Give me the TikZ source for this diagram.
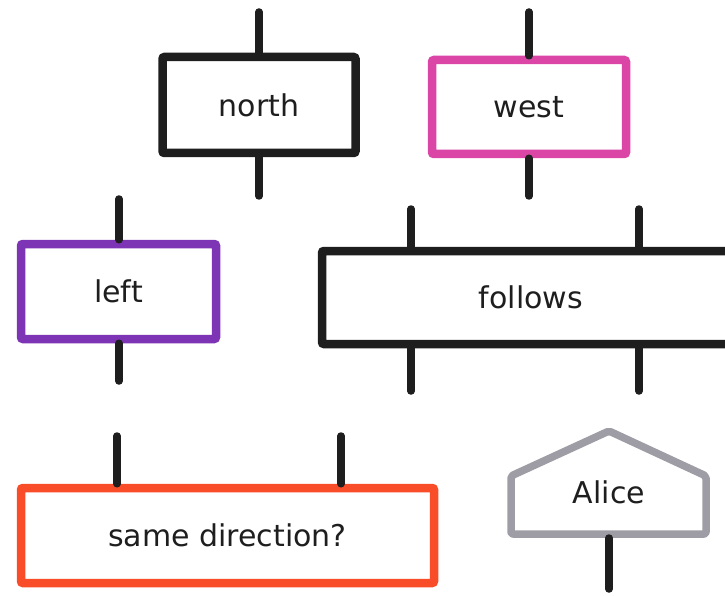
\documentclass[tikz,border=0pt]{standalone}
\usepackage{fontspec}
\setmainfont{DejaVu Sans}
\definecolor{ink}{HTML}{1E1E1E}
\definecolor{pinkbox}{HTML}{DA45A6}
\definecolor{purplebox}{HTML}{7D35B5}
\definecolor{redbox}{HTML}{F94C28}
\definecolor{greybox}{HTML}{9E9CA5}
\tikzset{
  box/.style={draw=#1, line width=8.5, rounded corners=2, fill=white, text=ink,
    font=\fontsize{30}{34}\selectfont, inner sep=0pt},
  box/.default=ink,
  wire/.style={draw=ink, line width=7.5, line cap=round},
}
\begin{document}
\begin{tikzpicture}[x=1pt, y=-1pt]
\useasboundingbox (0,0) rectangle (725,596);
\node[box, minimum width=193, minimum height=96] (north) at (259,105) {north};
\node[box=pinkbox, minimum width=194, minimum height=94] (west) at (529,107) {west};
\node[box=purplebox, minimum width=195, minimum height=95] (left) at (118.5,291.5) {left};
\node[box, minimum width=418, minimum height=93] (follows) at (531,297.5) {follows};
\node[box=redbox, minimum width=413, minimum height=95] (same) at (227.5,535.5) {same direction?};
\draw[greybox, line width=7.5, rounded corners=2, line join=round]
  (511,534) -- (511,476) -- (609,431) -- (706,476) -- (706,534) -- cycle;
\node[text=ink, font=\fontsize{30}{34}\selectfont] (alice) at (609,492) {Alice};
\coordinate (alice-base) at (609,538);
\coordinate (n-in) at (259,12);
\coordinate (n-out) at (259,196);
\coordinate (w-in) at (529,12);
\coordinate (w-out) at (529,196);
\coordinate (l-in) at (119,199);
\coordinate (l-out) at (119,381);
\coordinate (f-in1) at (411,209);
\coordinate (f-in2) at (639,209);
\coordinate (f-out1) at (411,391);
\coordinate (f-out2) at (639,391);
\coordinate (s-in1) at (117,436);
\coordinate (s-in2) at (341,436);
\coordinate (a-out) at (609,589);
\draw[wire] (n-in) -- (north.north);
\draw[wire] (north.south) -- (n-out);
\draw[wire] (w-in) -- (west.north);
\draw[wire] (west.south) -- (w-out);
\draw[wire] (l-in) -- (left.north -| l-in);
\draw[wire] (left.south -| l-out) -- (l-out);
\draw[wire] (f-in1) -- (follows.north -| f-in1);
\draw[wire] (f-in2) -- (follows.north -| f-in2);
\draw[wire] (follows.south -| f-out1) -- (f-out1);
\draw[wire] (follows.south -| f-out2) -- (f-out2);
\draw[wire] (s-in1) -- (same.north -| s-in1);
\draw[wire] (s-in2) -- (same.north -| s-in2);
\draw[wire] (alice-base) -- (a-out);
\end{tikzpicture}
\end{document}
